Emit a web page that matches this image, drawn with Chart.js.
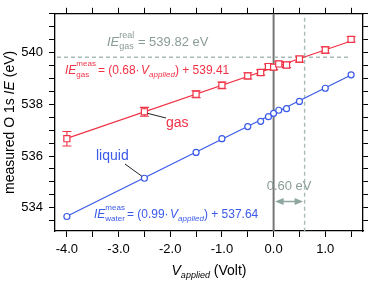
<!DOCTYPE html>
<html>
<head>
<meta charset="utf-8">
<script src="https://cdn.jsdelivr.net/npm/chart.js@4/dist/chart.umd.min.js"></script>
<style>
html,body{margin:0;padding:0;background:#fff;}
#c{display:block;}
</style>
</head>
<body>
<canvas id="c" width="371" height="282" style="width:371px;height:282px"></canvas>
<script>
// ---- data ----
const voltages  = [-4.0, -2.5, -1.5, -1.0, -0.5, -0.25, -0.1, 0.0, 0.1, 0.25, 0.5, 1.0, 1.5];
const gasIE     = [536.67, 537.71, 538.39, 538.73, 539.10, 539.23, 539.46, 539.44, 539.56, 539.52, 539.75, 540.10, 540.51];
const gasErr    = [0.28, 0.17, 0.13, 0.13, 0.12, 0.1, 0.1, 0.1, 0.1, 0.1, 0.12, 0.12, 0.1];
const liquidIE  = [533.66, 535.14, 536.14, 536.67, 537.14, 537.34, 537.52, 537.65, 537.77, 537.83, 538.11, 538.62, 539.14];
const fitV      = [-4.0, 1.5];
const gasFit    = [536.68, 540.45];
const liquidFit = [533.67, 539.13];
const realGasIE = 539.82;
const shiftV    = 0.60;
const xRange    = [-4.23, 1.73];
const yRange    = [533.1, 541.5];

const FAM = '"Liberation Sans", Arial, Helvetica, sans-serif';
const RED = '#f03246';
const BLUE = '#3a5ae8';
const GRAYT = '#8a9c97';
const GRAYL = '#a9bbb5';

function pts(xs, ys){ return xs.map((x,i)=>({x:x, y:ys[i]})); }

function rich(ctx, x, y, segs, color, main, sub) {
  ctx.save();
  ctx.fillStyle = color; ctx.textBaseline = 'alphabetic'; ctx.textAlign = 'left';
  let cx = x;
  for (const s of segs) {
    if (s.stack) {
      ctx.font = sub + 'px ' + FAM;
      const w1 = ctx.measureText(s.sup).width, w2 = ctx.measureText(s.sub).width;
      ctx.fillText(s.sup, cx, y - 8);
      ctx.fillText(s.sub, cx, y + 3);
      cx += Math.max(w1, w2);
    } else if (s.sub !== undefined) {
      ctx.font = 'italic ' + sub + 'px ' + FAM;
      ctx.fillText(s.sub, cx, y + 3);
      cx += ctx.measureText(s.sub).width;
    } else if (s.gap !== undefined) {
      cx += s.gap;
    } else {
      ctx.font = (s.it ? 'italic ' : '') + main + 'px ' + FAM;
      ctx.fillText(s.t, cx, y);
      cx += ctx.measureText(s.t).width;
    }
  }
  ctx.restore();
  return cx - x;
}

const overlay = {
  id: 'overlay',
  beforeDatasetsDraw(chart) {
    const {ctx, chartArea: a, scales: {x, y}} = chart;
    ctx.save();
    ctx.strokeStyle = '#767676'; ctx.lineWidth = 2;
    const x0 = x.getPixelForValue(0);
    ctx.beginPath(); ctx.moveTo(x0, a.top); ctx.lineTo(x0, a.bottom); ctx.stroke();
    ctx.strokeStyle = GRAYL; ctx.lineWidth = 1.4; ctx.setLineDash([4, 3]);
    const xs = x.getPixelForValue(shiftV);
    ctx.beginPath(); ctx.moveTo(xs, a.top + 4); ctx.lineTo(xs, a.bottom); ctx.stroke();
    const yr = y.getPixelForValue(realGasIE);
    ctx.beginPath(); ctx.moveTo(a.left + 2, yr); ctx.lineTo(x.getPixelForValue(1.5), yr); ctx.stroke();
    ctx.restore();
  },
  beforeDatasetDraw(chart, args) {
    if (args.index !== 0) return;
    const {ctx, scales: {x, y}} = chart;
    ctx.save();
    ctx.strokeStyle = RED; ctx.lineWidth = 1.1;
    voltages.forEach((v, i) => {
      const px = x.getPixelForValue(v);
      const t = y.getPixelForValue(gasIE[i] + gasErr[i]);
      const b = y.getPixelForValue(gasIE[i] - gasErr[i]);
      ctx.beginPath();
      ctx.moveTo(px, t); ctx.lineTo(px, b);
      ctx.moveTo(px - 4.5, t); ctx.lineTo(px + 4.5, t);
      ctx.moveTo(px - 4.5, b); ctx.lineTo(px + 4.5, b);
      ctx.stroke();
    });
    ctx.restore();
  },
  afterDatasetsDraw(chart) {
    const {ctx, chartArea: a, scales: {x, y}} = chart;
    rich(ctx, 107, 46, [{t:'IE', it:true}, {stack:true, sup:'real', sub:'gas'}, {t:' = ' + realGasIE.toFixed(2) + ' eV'}], GRAYT, 13, 9);
    rich(ctx, 65, 74, [{t:'IE', it:true}, {stack:true, sup:'meas', sub:'gas'}, {gap:2}, {t:'= (0.68\u00b7'}, {gap:1.5}, {t:'V', it:true}, {sub:'applied'}, {t:') + 539.41'}], RED, 12, 8);
    rich(ctx, 94, 217.5, [{t:'IE', it:true}, {stack:true, sup:'meas', sub:'water'}, {gap:2}, {t:'= (0.99\u00b7'}, {gap:1.5}, {t:'V', it:true}, {sub:'applied'}, {t:') + 537.64'}], BLUE, 12, 8);

    ctx.save();
    ctx.strokeStyle = '#222'; ctx.lineWidth = 1;
    const gx = x.getPixelForValue(voltages[1]), gy = y.getPixelForValue(gasIE[1]);
    ctx.beginPath(); ctx.moveTo(gx + 3, gy + 1.5); ctx.lineTo(166, 118); ctx.stroke();
    const lx = x.getPixelForValue(voltages[1]), ly = y.getPixelForValue(liquidIE[1]);
    ctx.beginPath(); ctx.moveTo(125, 164); ctx.lineTo(lx - 2.5, ly - 2); ctx.stroke();
    ctx.restore();

    ctx.save();
    ctx.textBaseline = 'alphabetic'; ctx.textAlign = 'left';
    ctx.font = '14px ' + FAM;
    ctx.fillStyle = RED; ctx.fillText('gas', 166, 127);
    ctx.fillStyle = BLUE; ctx.fillText('liquid', 96, 160);
    ctx.fillStyle = GRAYT; ctx.font = '13px ' + FAM; ctx.textAlign = 'center';
    const x0 = x.getPixelForValue(0), xs = x.getPixelForValue(shiftV);
    ctx.fillText(shiftV.toFixed(2) + ' eV', (x0 + xs) / 2, 190);
    const ay = 201.5;
    ctx.strokeStyle = '#8fa6a0'; ctx.fillStyle = '#8fa6a0'; ctx.lineWidth = 1.5;
    ctx.beginPath(); ctx.moveTo(x0 + 4, ay); ctx.lineTo(xs - 4, ay); ctx.stroke();
    ctx.beginPath(); ctx.moveTo(x0 + 1.5, ay); ctx.lineTo(x0 + 10, ay - 3.5); ctx.lineTo(x0 + 10, ay + 3.5); ctx.closePath(); ctx.fill();
    ctx.beginPath(); ctx.moveTo(xs - 1.5, ay); ctx.lineTo(xs - 10, ay - 3.5); ctx.lineTo(xs - 10, ay + 3.5); ctx.closePath(); ctx.fill();
    ctx.restore();

    ctx.save();
    ctx.font = 'italic 14px ' + FAM;
    const wV = ctx.measureText('V').width;
    ctx.font = 'italic 9px ' + FAM;
    const wA = ctx.measureText('applied').width;
    ctx.font = '14px ' + FAM;
    const wR = ctx.measureText(' (Volt)').width;
    const cx = (a.left + a.right) / 2;
    rich(ctx, cx - (wV + wA + wR) / 2, 275, [{t:'V', it:true}, {sub:'applied'}, {t:' (Volt)'}], '#000', 14, 9);
    ctx.restore();

    ctx.save();
    ctx.translate(13.5, (a.top + a.bottom) / 2);
    ctx.rotate(-Math.PI / 2);
    ctx.font = '14px ' + FAM;
    const w1 = ctx.measureText('measured O 1s ').width;
    const w3 = ctx.measureText(' (eV)').width;
    ctx.font = 'italic 14px ' + FAM;
    const w2 = ctx.measureText('IE').width;
    rich(ctx, -(w1 + w2 + w3) / 2, 0, [{t:'measured O 1s '}, {t:'IE', it:true}, {t:' (eV)'}], '#000', 14, 9);
    ctx.restore();
  }
};

const tickFont = {size: 13, family: FAM};
const frame = {display: true, color: '#000', width: 1.3};

new Chart(document.getElementById('c'), {
  type: 'scatter',
  data: {
    datasets: [
      {data: pts(voltages, gasIE), pointStyle: 'rect', pointRadius: 4.3, borderColor: RED, backgroundColor: '#fff', borderWidth: 1.2, showLine: false},
      {data: pts(voltages, liquidIE), pointStyle: 'circle', pointRadius: 3, borderColor: BLUE, backgroundColor: '#fff', borderWidth: 1.2, showLine: false},
      {data: pts(fitV, gasFit), showLine: true, pointRadius: 0, borderColor: RED, borderWidth: 1.2},
      {data: pts(fitV, liquidFit), showLine: true, pointRadius: 0, borderColor: BLUE, borderWidth: 1.2}
    ]
  },
  options: {
    responsive: false, animation: false, devicePixelRatio: 1,
    layout: {padding: {top: 2, right: 3, left: 0, bottom: 0}},
    plugins: {legend: {display: false}, tooltip: {enabled: false}},
    scales: {
      x: {type: 'linear', position: 'bottom', min: xRange[0], max: xRange[1],
        ticks: {stepSize: 0.5, includeBounds: false, autoSkip: false, maxRotation: 0, padding: 5, color: '#000', font: tickFont,
          callback: v => Math.abs(v - Math.round(v)) < 1e-6 ? v.toFixed(1) : ''},
        grid: {drawOnChartArea: false, drawTicks: true, tickLength: 6, color: '#000', lineWidth: 1},
        border: frame,
        afterFit: s => { s.height = 51; }},
      xTop: {type: 'linear', position: 'top', min: xRange[0], max: xRange[1],
        ticks: {display: false, stepSize: 0.5, includeBounds: false, autoSkip: false},
        grid: {drawOnChartArea: false, drawTicks: true, tickLength: 6, color: '#000', lineWidth: 1},
        border: frame,
        afterFit: s => { s.height = 6; }},
      y: {type: 'linear', position: 'left', min: yRange[0], max: yRange[1],
        ticks: {stepSize: 0.5, includeBounds: false, autoSkip: false, padding: 6, color: '#000', font: tickFont,
          callback: v => Math.abs(v / 2 - Math.round(v / 2)) < 1e-6 ? String(Math.round(v)) : ''},
        grid: {drawOnChartArea: false, drawTicks: true, tickLength: 6, color: '#000', lineWidth: 1},
        border: frame,
        afterFit: s => { s.width = 55; }},
      yRight: {type: 'linear', position: 'right', min: yRange[0], max: yRange[1],
        ticks: {display: false, stepSize: 0.5, includeBounds: false, autoSkip: false},
        grid: {drawOnChartArea: false, drawTicks: true, tickLength: 5, color: '#000', lineWidth: 1},
        border: frame,
        afterFit: s => { s.width = 5; }}
    }
  },
  plugins: [overlay]
});
</script>
</body>
</html>
